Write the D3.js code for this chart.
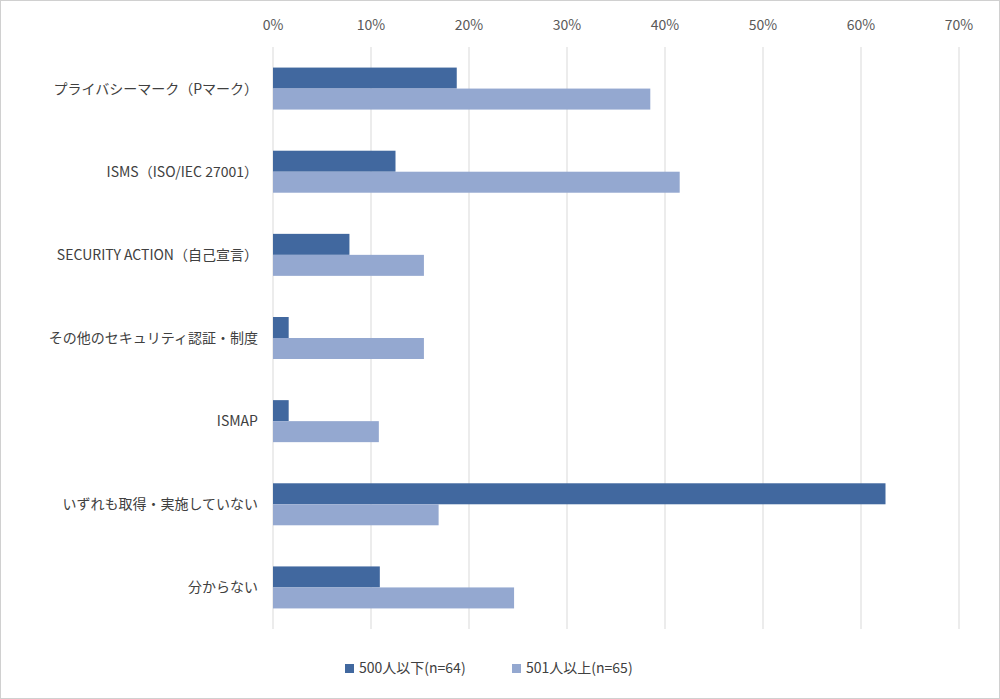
<!DOCTYPE html>
<html><head><meta charset="utf-8">
<script src="https://cdn.jsdelivr.net/npm/d3@7"></script>
<style>body{margin:0;background:#fff;font-family:"Noto Sans CJK JP",sans-serif;}</style>
</head><body><svg id="chart" width="1000" height="699"></svg>
<script>
var categories = ["プライバシーマーク（Pマーク）","ISMS（ISO/IEC 27001）","SECURITY ACTION（自己宣言）","その他のセキュリティ認証・制度","ISMAP","いずれも取得・実施していない","分からない"];
var seriesNames = ["500人以下(n=64)","501人以上(n=65)"];
var small = [18.75, 12.5, 7.8, 1.6, 1.6, 62.5, 10.9];
var large = [38.5, 41.5, 15.4, 15.4, 10.8, 16.9, 24.6];
var ticks = [0,10,20,30,40,50,60,70];
var colors = ["#41689f","#94a8d0"];

var svg = d3.select("#chart");
svg.append("rect").attr("x",0.5).attr("y",0.5).attr("width",999).attr("height",698)
  .attr("fill","#fff").attr("stroke","#d0d0d0");

var x = d3.scaleLinear().domain([0,70]).range([273,959]);
var y = d3.scaleBand().domain(categories).range([47,629]);
var bh = 21;

svg.append("g").selectAll("line").data(ticks).enter().append("line")
  .attr("x1",function(d){return x(d);}).attr("x2",function(d){return x(d);})
  .attr("y1",47).attr("y2",629).attr("stroke","#d9d9d9");

svg.append("g").selectAll("text").data(ticks).enter().append("text")
  .attr("x",function(d){return x(d);}).attr("y",30).attr("text-anchor","middle")
  .attr("font-size",14).attr("fill","#595959").text(function(d){return d+"%";});

[small,large].forEach(function(vals,s){
  svg.append("g").selectAll("rect").data(vals).enter().append("rect")
    .attr("x",x(0))
    .attr("y",function(d,i){return y(categories[i])+y.bandwidth()/2-bh+s*bh;})
    .attr("width",function(d){return x(d)-x(0);})
    .attr("height",bh).attr("fill",colors[s]);
});

svg.append("g").selectAll("text").data(categories).enter().append("text")
  .attr("x",258).attr("y",function(d){return y(d)+y.bandwidth()/2+5;})
  .attr("text-anchor","end").attr("font-size",14).attr("fill","#404040").text(function(d){return d;});

var lg = svg.append("g");
var lx = [345,512];
seriesNames.forEach(function(n,i){
  lg.append("rect").attr("x",lx[i]).attr("y",664).attr("width",9).attr("height",9).attr("fill",colors[i]);
  lg.append("text").attr("x",lx[i]+14).attr("y",673).attr("font-size",14).attr("fill","#404040").text(n);
});
</script></body></html>
